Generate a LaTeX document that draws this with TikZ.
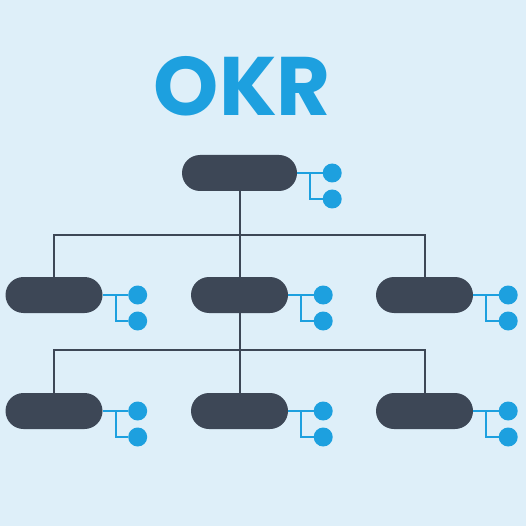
\documentclass[tikz,border=0pt]{standalone}
\usepackage{fontspec}
\usepackage{tikz}
\usetikzlibrary{calc}
\newfontfamily\titlefont{Poppins}[UprightFont=* Bold]
\definecolor{back-color}{RGB}{222,239,249}
\definecolor{obj-color}{RGB}{61,71,86}
\definecolor{kr-color}{RGB}{29,160,223}
\tikzset{
    obj/.style = {fill=obj-color, rounded corners=18pt, minimum height=36pt,
        minimum width=97pt, inner sep=0pt},
    kr/.style = {circle, fill=kr-color, minimum size=19pt, inner sep=0pt},
    tree/.style = {draw=obj-color, line width=2pt},
    krline/.style = {draw=kr-color, line width=2pt},
    pics/results/.style = {
        code = {%
        \coordinate (-root) at (0,0);
        \coordinate (-fork) at (13,0);
        \node[kr] (-a) at (35,0) {};
        \node[kr] (-b) at (35,26) {};
        \draw[krline] (-root) -- (-a);
        \draw[krline] (-fork) |- (-b);
        }
    },
}

\begin{document}
\begin{tikzpicture}[x=1pt,y=-1pt]
\fill[back-color] (0,0) rectangle (526,526);
\useasboundingbox (0,0) rectangle (526,526);

\node[text=kr-color, font=\titlefont\fontsize{83}{83}\selectfont] (title) at (242.5,86) {OKR};

\node[obj, minimum width=115pt] (top) at (239.5,173) {};
\node[obj] (o1) at (54,295) {};
\node[obj] (o2) at (239.5,295) {};
\node[obj] (o3) at (424.5,295) {};
\node[obj] (o4) at (54,411) {};
\node[obj] (o5) at (239.5,411) {};
\node[obj] (o6) at (424.5,411) {};

\pic (ktop) at (top.east) {results};
\foreach \o in {o1,o2,o3,o4,o5,o6}
    \pic (k\o) at (\o.east) {results};

\draw[tree] (top.south) -- ++(0,44) coordinate (b1);
\draw[tree] (o1.north) |- (b1) -| (o3.north);
\draw[tree] (b1) -- (o2.north);
\coordinate (b2) at ($(o2.south)+(0,37)$);
\draw[tree] (o2.south) -- (o5.north);
\draw[tree] (o4.north) |- (b2) -| (o6.north);
\end{tikzpicture}
\end{document}
